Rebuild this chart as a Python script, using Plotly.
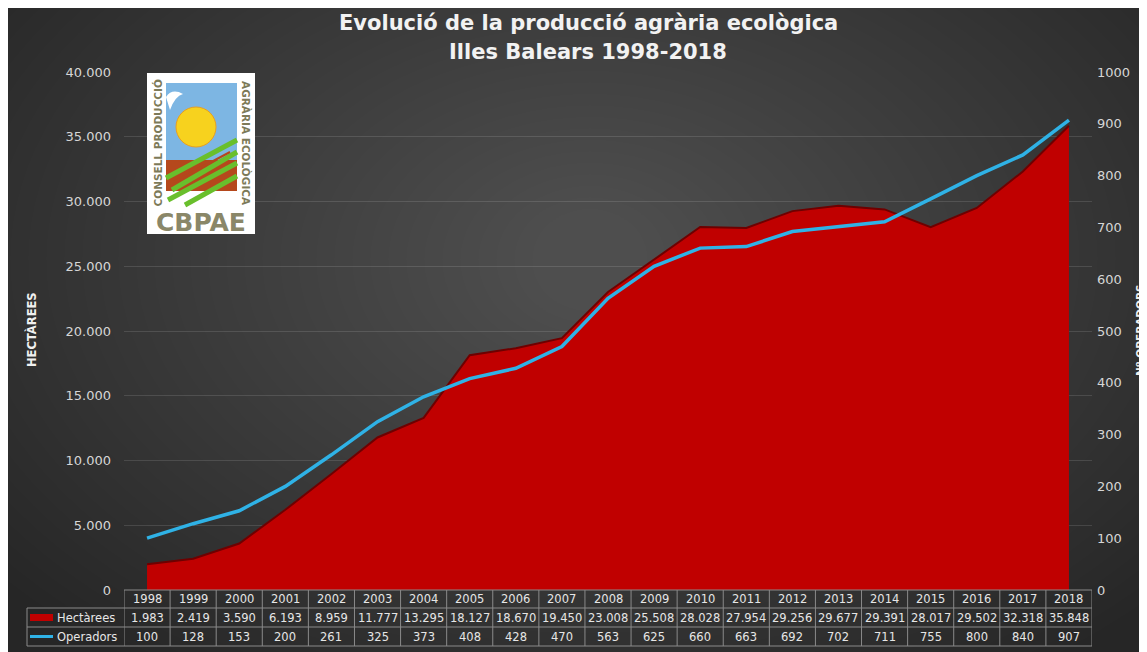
import plotly.graph_objects as go

# ---------------- data ----------------
years = ["1998", "1999", "2000", "2001", "2002", "2003", "2004", "2005", "2006", "2007",
         "2008", "2009", "2010", "2011", "2012", "2013", "2014", "2015", "2016", "2017", "2018"]
hectarees = [1983, 2419, 3590, 6193, 8959, 11777, 13295, 18127, 18670, 19450,
             23008, 25508, 28028, 27954, 29256, 29677, 29391, 28017, 29502, 32318, 35848]
operadors = [100, 128, 153, 200, 261, 325, 373, 408, 428, 470,
             563, 625, 660, 663, 692, 702, 711, 755, 800, 840, 907]
left_ticks = [0, 5000, 10000, 15000, 20000, 25000, 30000, 35000, 40000]
right_ticks = [0, 100, 200, 300, 400, 500, 600, 700, 800, 900, 1000]

OFF = 8  # page body margin
W, H = 1147 - OFF, 652 - OFF
# plot area in screen pixels: x 124..1092, y 72..590
ML, MT = 124 - OFF, 72 - OFF
MR, MB = W - (1092 - OFF), H - (590 - OFF)
PW, PH = W - ML - MR, H - MT - MB


def px(x):  # screen x -> paper
    return (x - OFF - ML) / PW


def py(y):  # screen y -> paper
    return (H - MB - (y - OFF)) / PH


def fmt(v):
    return f"{v:,}".replace(",", ".")


FONT = "DejaVu Sans"
RED = "#c00000"
BLUE = "#2fb2e6"

fig = go.Figure()
fig.add_trace(go.Scatter(
    x=years, y=hectarees, name="Hectàrees", mode="lines",
    line=dict(color="#6e0000", width=2), fill="tozeroy", fillcolor=RED,
    yaxis="y"))
fig.add_trace(go.Scatter(
    x=years, y=operadors, name="Operadors", mode="lines",
    line=dict(color=BLUE, width=3.5), yaxis="y2"))

shapes = []
# soft radial glow
cx, cy = 590, 260
N = 40
for i in range(N):
    rx = 760 - i * 18
    ry = 500 - i * 11.5
    shapes.append(dict(type="circle", xref="paper", yref="paper",
                       x0=px(cx - rx), x1=px(cx + rx), y0=py(cy - ry), y1=py(cy + ry),
                       fillcolor="rgba(255,255,255,0.008)", line=dict(width=0), layer="below"))

# ---------------- table ----------------
tl = "#8a8a8a"
row_y = [590, 608, 627, 646]
for yv in row_y:
    x0 = 124 if yv == 590 else 27
    shapes.append(dict(type="line", xref="paper", yref="paper", x0=px(x0), x1=px(1092),
                       y0=py(yv), y1=py(yv), line=dict(color=tl, width=1)))
for i in range(len(years) + 1):
    shapes.append(dict(type="line", xref="x", yref="paper", x0=i - 0.5, x1=i - 0.5,
                       y0=py(590), y1=py(646), line=dict(color=tl, width=1)))
shapes.append(dict(type="line", xref="paper", yref="paper", x0=px(27), x1=px(27),
                   y0=py(608), y1=py(646), line=dict(color=tl, width=1)))
# legend keys
shapes.append(dict(type="line", xref="paper", yref="paper", x0=px(30), x1=px(53),
                   y0=py(617.5), y1=py(617.5), line=dict(color=RED, width=7)))
shapes.append(dict(type="line", xref="paper", yref="paper", x0=px(30), x1=px(53),
                   y0=py(636.5), y1=py(636.5), line=dict(color=BLUE, width=3)))

# ---------------- logo ----------------
shapes.append(dict(type="rect", xref="paper", yref="paper", x0=px(147), x1=px(255), y0=py(73), y1=py(234),
                   fillcolor="#ffffff", line=dict(width=0)))
shapes.append(dict(type="rect", xref="paper", yref="paper", x0=px(166), x1=px(237), y0=py(83), y1=py(162),
                   fillcolor="#7db6e3", line=dict(width=0)))
shapes.append(dict(type="rect", xref="paper", yref="paper", x0=px(166), x1=px(237), y0=py(160), y1=py(191),
                   fillcolor="#b5481c", line=dict(width=0)))
shapes.append(dict(type="circle", xref="paper", yref="paper", x0=px(176), x1=px(216), y0=py(107), y1=py(147),
                   fillcolor="#f7d21e", line=dict(color="#e8a020", width=1)))
shapes.append(dict(type="path", xref="paper", yref="paper",
                   path=f"M {px(166)} {py(97)} Q {px(172)} {py(88)} {px(183)} {py(94)} "
                        f"Q {px(175)} {py(96)} {px(170)} {py(110)} Z",
                   fillcolor="#ffffff", line=dict(width=0)))
for (xa, ya, xb, yb, c, w) in [
        (166, 178, 237, 140, "#69bf2c", 5),
        (172, 190, 237, 152, "#69bf2c", 5),
        (174, 182, 230, 152, "#b5481c", 2),
        (168, 200, 237, 163, "#69bf2c", 5),
        (185, 205, 237, 176, "#69bf2c", 5)]:
    shapes.append(dict(type="line", xref="paper", yref="paper", x0=px(xa), x1=px(xb),
                       y0=py(ya), y1=py(yb), line=dict(color=c, width=w)))

annotations = []


def ann(x, y, text, font, **kw):
    d = dict(xref="paper", yref="paper", x=px(x), y=py(y), showarrow=False, text=text, font=font,
             xanchor="center", yanchor="middle")
    d.update(kw)
    annotations.append(d)


# title
ann(588, 23, "<b>Evolució de la producció agrària ecològica</b>", dict(family=FONT, size=21, color="#f2f2f2"))
ann(588, 52, "<b>Illes Balears 1998-2018</b>", dict(family=FONT, size=21, color="#f2f2f2"))
# axis titles
ann(31, 330, "<b>HECTÀREES</b>", dict(family=FONT, size=11.5, color="#f0f0f0"), textangle=-90)
ann(1140, 330, "<b>Nº OPERADORS</b>", dict(family=FONT, size=10.5, color="#f0f0f0"), textangle=-90)
# logo texts
ann(157.5, 143, "<b>CONSELL PRODUCCIÓ</b>", dict(family=FONT, size=10.5, color="#7d7a58"), textangle=-90)
ann(246, 143, "<b>AGRÀRIA ECOLÒGICA</b>", dict(family=FONT, size=10.5, color="#7d7a58"), textangle=90)
ann(201, 222, "<b>CBPAE</b>", dict(family=FONT, size=25, color="#8a8768"))

# table texts
tf = dict(family=FONT, size=11.5, color="#e6e6e6")
for i, yr in enumerate(years):
    for yy, txt in [(599, yr), (617.5, fmt(hectarees[i])), (636.5, str(operadors[i]))]:
        annotations.append(dict(xref="x", yref="paper", x=i, y=py(yy), showarrow=False, text=txt, font=tf,
                                xanchor="center", yanchor="middle"))
ann(55, 617.5, "Hectàrees", tf, xanchor="left")
ann(55, 636.5, "Operadors", tf, xanchor="left")

fig.update_layout(
    width=W, height=H,
    margin=dict(l=ML, r=MR, t=MT, b=MB, pad=0),
    paper_bgcolor="#262626",
    plot_bgcolor="rgba(0,0,0,0)",
    showlegend=False,
    separators=",.",
    shapes=shapes,
    annotations=annotations,
    xaxis=dict(type="category", range=[-0.5, 20.5], showticklabels=False, showgrid=False,
               zeroline=False, showline=False, ticks=""),
    yaxis=dict(range=[0, 40000], tickvals=left_ticks, ticktext=[fmt(v) for v in left_ticks],
               showgrid=True, gridcolor="rgba(255,255,255,0.12)", gridwidth=1, zeroline=False,
               ticks="", ticklabelstandoff=12,
               tickfont=dict(family=FONT, size=13, color="#d6d6d6")),
    yaxis2=dict(range=[0, 1000], tickvals=right_ticks, overlaying="y", side="right",
                showgrid=False, zeroline=False, ticks="", ticklabelstandoff=4,
                tickfont=dict(family=FONT, size=13, color="#d6d6d6")),
)

fig.write_html("out.html")
